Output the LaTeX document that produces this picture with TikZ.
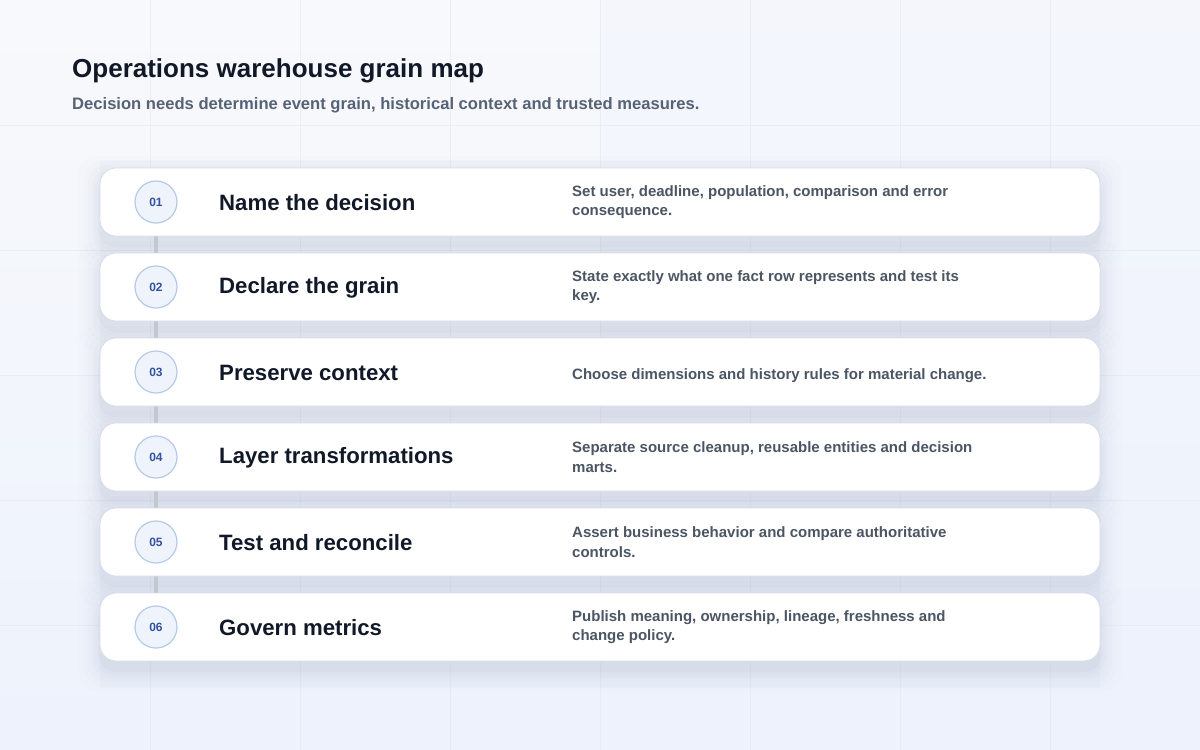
\documentclass[tikz,border=0pt]{standalone}
\usepackage{fontspec}
\setmainfont{Liberation Sans}
\definecolor{bgtop}{HTML}{F8F9FC}
\definecolor{bgbot}{HTML}{EDF2FC}
\definecolor{gridc}{HTML}{E3E8F0}
\definecolor{shadowc}{HTML}{8E9AB8}
\definecolor{cardedge}{HTML}{D6DCE8}
\definecolor{circfill}{HTML}{EFF4FC}
\definecolor{circedge}{HTML}{B7C9E8}
\definecolor{numc}{HTML}{3352A0}
\definecolor{titlec}{HTML}{111827}
\definecolor{subc}{HTML}{576275}
\definecolor{descc}{HTML}{4B5563}
\definecolor{linkc}{HTML}{C3C7D0}
\begin{document}
\begin{tikzpicture}[x=1pt,y=-1pt,
  cardbox/.style={draw=cardedge, line width=0.8pt, fill=white, rounded corners=16pt},
  numcirc/.style={circle, draw=circedge, line width=1.2pt, fill=circfill, minimum size=42pt, inner sep=0pt,
     font=\fontsize{12}{14}\selectfont\bfseries, text=numc},
  steptitle/.style={anchor=west, inner sep=0pt, font=\fontsize{22.2}{26}\selectfont\bfseries, text=titlec},
  stepdesc/.style={anchor=west, inner sep=0pt, align=left, font=\fontsize{15}{19.5}\selectfont\bfseries, text=descc},
  linkline/.style={draw=linkc, line width=3.5pt}]
\useasboundingbox (0,0) rectangle (1200,750);
\shade[top color=bgtop, bottom color=bgbot] (0,0) rectangle (1200,750);
\fill[bgbot, opacity=0.3] (600,0) rectangle (1200,750);
% grid
\foreach \gx in {150,300,...,1050} \draw[gridc, opacity=0.6, line width=0.8pt] (\gx,0) -- (\gx,750);
\foreach \gy in {125,250,375,500,625} \draw[gridc, opacity=0.6, line width=0.8pt] (0,\gy) -- (1200,\gy);
% panel
\fill[shadowc, opacity=0.04] (100,160) rectangle (1100,688);
% title
\node[anchor=base west, inner sep=0pt, font=\fontsize{26}{30}\selectfont\bfseries, text=titlec] (title) at (72,77) {Operations warehouse grain map};
\node[anchor=base west, inner sep=0pt, font=\fontsize{16.6}{19}\selectfont\bfseries, text=subc] (subtitle) at (72,109) {Decision needs determine event grain, historical context and trusted measures.};
% shadows
\foreach \i in {0,...,5} {
  \pgfmathsetmacro{\ty}{168+85*\i}
  \foreach \s/\op in {2/0.05,5/0.04,8/0.035,12/0.025,16/0.02,21/0.015} {
    \fill[shadowc, opacity=\op, rounded corners=18pt] (100-\s, \ty+9-\s) rectangle (1100+\s, \ty+68+9+\s);
  }
}
% coordinates
\foreach \i in {1,...,6} {
  \pgfmathsetmacro{\ty}{168+85*(\i-1)}
  \coordinate (c\i) at (156,\ty+34);
}
% links (behind cards)
\foreach \a/\b in {1/2,2/3,3/4,4/5,5/6} {
  \draw[linkline] (c\a) -- (c\b);
}
% cards
\foreach \i in {1,...,6} {
  \pgfmathsetmacro{\ty}{168+85*(\i-1)}
  \draw[cardbox] (100,\ty) rectangle (1100,\ty+68);
}
% circles and text
\foreach \i/\n/\t/\d/\dy in {
  1/01/Name the decision/{Set user, deadline, population, comparison and error\\consequence.}/0,
  2/02/Declare the grain/{State exactly what one fact row represents and test its\\key.}/0,
  3/03/Preserve context/{Choose dimensions and history rules for material change.}/4,
  4/04/Layer transformations/{Separate source cleanup, reusable entities and decision\\marts.}/0,
  5/05/Test and reconcile/{Assert business behavior and compare authoritative\\controls.}/0,
  6/06/Govern metrics/{Publish meaning, ownership, lineage, freshness and\\change policy.}/0} {
  \node[numcirc] (n\i) at (c\i) {\n};
  \node[steptitle] (t\i) at ([xshift=63pt, yshift=-1pt]c\i) {\t};
  \node[stepdesc] (d\i) at ([xshift=416pt, yshift=-\dy pt]c\i) {\d};
}
\end{tikzpicture}
\end{document}
